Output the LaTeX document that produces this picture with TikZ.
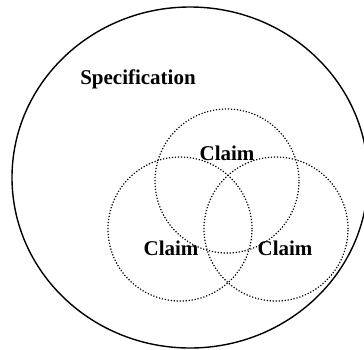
\documentclass[tikz,border=0pt]{standalone}
\usepackage{fontspec}
\setmainfont{Liberation Serif}
\usetikzlibrary{positioning, shapes.geometric}

\begin{document}
\begin{tikzpicture}[x=1pt, y=-1pt,
  specset/.style={draw, ellipse, line width=1.4pt, minimum width=356pt,
                  minimum height=341pt, inner sep=0pt},
  claimset/.style={draw, circle, dash pattern=on 1.2pt off 1.8pt,
                   line width=1.2pt, minimum size=144pt, inner sep=0pt},
  lbl/.style={font=\fontsize{21}{25}\selectfont\bfseries, inner sep=0pt}
]
  \useasboundingbox (0,0) rectangle (364,349);
  \node[specset]  (spec)   at (190,177.5) {};
  \node[claimset] (ctop)   at (227,181) {};
  \node[claimset] (cleft)  at (180,229) {};
  \node[claimset] (cright) at (276,229) {};
  \node[lbl] (speclbl)  at (138,79)  {Specification};
  \node[lbl] (toplbl)   at (227,153) {Claim};
  \node[lbl] (leftlbl)  at (171,248) {Claim};
  \node[lbl] (rightlbl) at (285,248) {Claim};
\end{tikzpicture}
\end{document}
